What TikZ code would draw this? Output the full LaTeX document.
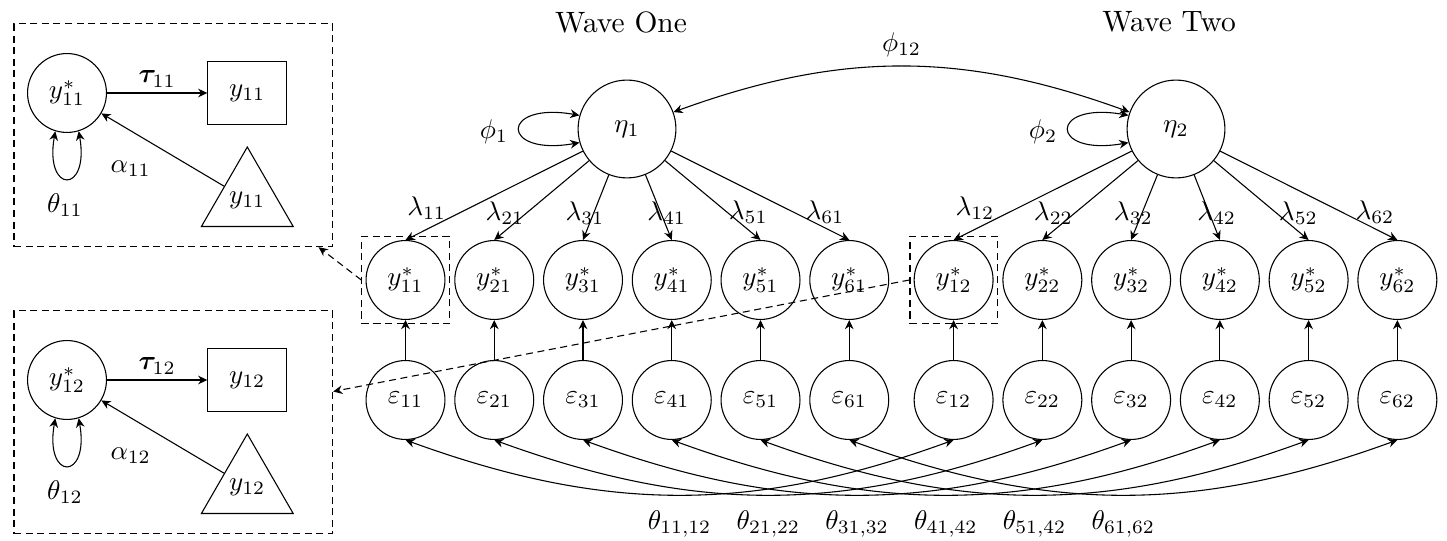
\documentclass[tikz,border=0pt]{standalone}
\usepackage{bm}
\usetikzlibrary{arrows.meta,shapes.geometric}
\begin{document}
\begin{tikzpicture}[x=0.37pt,y=0.37pt,
  >={Stealth[length=3.4pt,width=3.2pt]},
  lat/.style={circle,draw,minimum size=29.2pt,inner sep=0pt},
  bigl/.style={circle,draw,minimum size=36.2pt,inner sep=0pt},
  obs/.style={rectangle,draw,minimum width=29.2pt,minimum height=23.3pt,inner sep=0pt},
  thr/.style={regular polygon,regular polygon sides=3,draw,minimum size=39.2pt,inner sep=0pt},
  dsh/.style={dash pattern=on 2.6pt off 1.7pt},
  dbox/.style={rectangle,draw,dsh,minimum size=32.3pt,inner sep=0pt},
  pbox/.style={rectangle,draw,dsh,minimum width=117.9pt,minimum height=82.4pt,inner sep=0pt},
  lbl/.style={inner sep=1pt}
]
\useasboundingbox (0,0) rectangle (1447,540);

% ---------- left panels ----------
\foreach \k/\dy in {1/0,2/-287} {
  \begin{scope}[yshift=\dy*0.37pt]
  \node[pbox] (P\k) at (173.3,404.7) {};
  \node[lat] (pa\k) at (67,447) {$y^*_{1\k}$};
  \node[obs] (pb\k) at (247.3,447) {$y_{1\k}$};
  \node[thr] (pc\k) at (247.3,340) {$y_{1\k}$};
  \draw[->] (pa\k) -- node[above,lbl,yshift=1pt] {$\bm{\tau}_{1\k}$} (pb\k);
  \draw[->] (pc\k) -- (pa\k);
  \node[lbl] (al\k) at (130.7,371.7) {$\alpha_{1\k}$};
  \draw[<->] (pa\k.-107) .. controls +(-100:64) and +(-80:64) .. (pa\k.-73);
  \node[lbl] (th\k) at (65,335) {$\theta_{1\k}$};
  \end{scope}
}

% ---------- headings ----------
\node (w1) at (621,518) {\fontsize{10.9}{13}\selectfont Wave One};
\node (w2) at (1169,518) {\fontsize{10.9}{13}\selectfont Wave Two};

% ---------- latent factors ----------
\node[bigl] (eta1) at (627,411) {$\eta_1$};
\node[bigl] (eta2) at (1176,411) {$\eta_2$};
\draw[<->] (eta1.164) .. controls +(170:81) and +(190:81) .. (eta1.196);
\draw[<->] (eta2.164) .. controls +(170:81) and +(190:81) .. (eta2.196);
\node[lbl] (phi1) at (494,408.3) {$\phi_1$};
\node[lbl] (phi2) at (1043,408.3) {$\phi_2$};
\draw[<->] (eta1) to[bend left=20] node[midway,above] {$\phi_{12}$} (eta2);

% ---------- indicators and errors ----------
\foreach \i in {1,...,6} {
  \pgfmathsetmacro{\xa}{405.5+88.75*(\i-1)}
  \pgfmathsetmacro{\xb}{953.6+88.75*(\i-1)}
  \node[lat] (ya\i) at (\xa,260) {$y^*_{\i1}$};
  \node[lat] (yb\i) at (\xb,260) {$y^*_{\i2}$};
  \node[lat] (ea\i) at (\xa,140) {$\varepsilon_{\i1}$};
  \node[lat] (eb\i) at (\xb,140) {$\varepsilon_{\i2}$};
  \draw[->] (eta1) -- (ya\i.north);
  \draw[->] (eta2) -- (yb\i.north);
  \draw[->] (ea\i) -- (ya\i);
  \draw[->] (eb\i) -- (yb\i);
}

% loading labels
\foreach \i/\x/\y in {1/426.7/331.7,2/505/326.7,3/585/326.7,4/666.7/326.7,5/748.3/328.3,6/825/328.3} {
  \node[lbl] (la\i) at (\x,\y) {$\lambda_{\i1}$};
}
\foreach \i/\x/\y in {1/975/331.7,2/1053.3/326.7,3/1133.3/326.7,4/1216.7/326.7,5/1298.3/327.3,6/1375/328.3} {
  \node[lbl] (lb\i) at (\x,\y) {$\lambda_{\i2}$};
}

% error covariances
\foreach \i/\lab in {1/{11,12},2/{21,22},3/{31,32},4/{41,42},5/{51,42},6/{61,62}} {
  \draw[<->] (ea\i.south) to[bend right=20] node[below,yshift=-2.4pt] {$\theta_{\lab}$} (eb\i.south);
}

% ---------- zoom boxes ----------
\node[dbox] (b1) at (ya1) {};
\node[dbox] (b2) at (yb1) {};
\draw[dsh,->] (b1.west) -- (P1);
\draw[dsh,->] (b2.west) -- (P2);
\end{tikzpicture}
\end{document}
